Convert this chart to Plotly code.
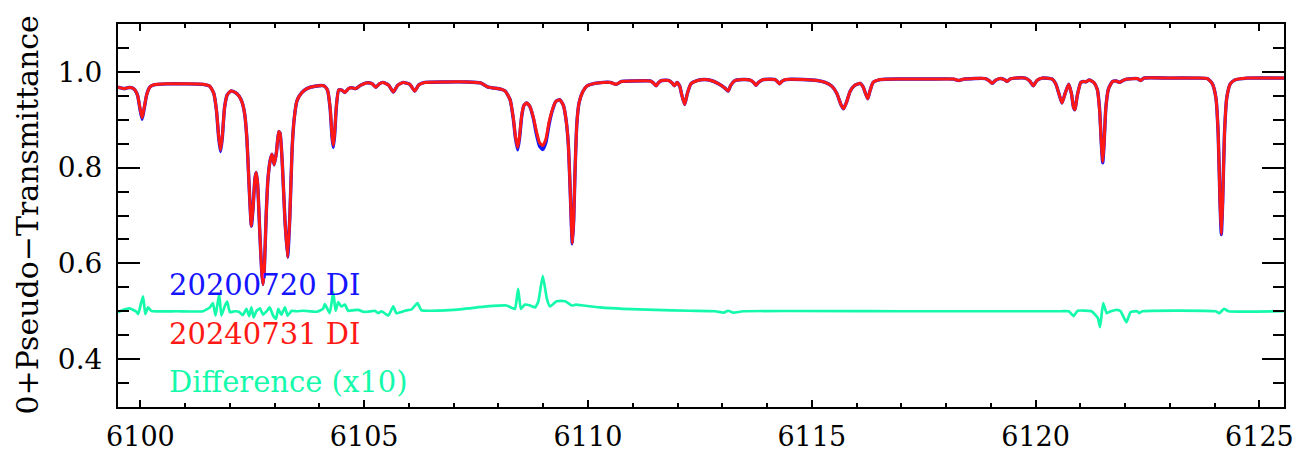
import plotly.graph_objects as go

# ---------------- data ----------------
wavelength = [
    6099.50, 6099.58, 6099.65, 6099.72, 6099.80, 6099.88, 6099.94, 6099.99, 6100.04, 6100.09,
    6100.14, 6100.21, 6100.30, 6100.60, 6101.00, 6101.40, 6101.55, 6101.64, 6101.70, 6101.75,
    6101.79, 6101.83, 6101.88, 6101.94, 6102.02, 6102.12, 6102.20, 6102.27, 6102.33, 6102.38,
    6102.43, 6102.48, 6102.52, 6102.56, 6102.59, 6102.62, 6102.67, 6102.71, 6102.74, 6102.77,
    6102.81, 6102.85, 6102.90, 6102.94, 6102.99, 6103.04, 6103.09, 6103.12, 6103.17, 6103.23,
    6103.29, 6103.34, 6103.39, 6103.44, 6103.50, 6103.60, 6103.72, 6103.90, 6104.10, 6104.18,
    6104.24, 6104.28, 6104.31, 6104.34, 6104.38, 6104.43, 6104.50, 6104.57, 6104.65, 6104.72,
    6104.81, 6104.92, 6105.05, 6105.18, 6105.26, 6105.34, 6105.42, 6105.55, 6105.65, 6105.75,
    6105.87, 6106.02, 6106.13, 6106.22, 6106.35, 6106.80, 6107.30, 6107.60, 6107.77, 6107.92,
    6108.05, 6108.15, 6108.26, 6108.33, 6108.38, 6108.43, 6108.47, 6108.52, 6108.57, 6108.63,
    6108.70, 6108.78, 6108.85, 6108.92, 6108.99, 6109.06, 6109.13, 6109.20, 6109.28, 6109.37,
    6109.45, 6109.51, 6109.56, 6109.60, 6109.63, 6109.65, 6109.68, 6109.71, 6109.75, 6109.80,
    6109.88, 6109.97, 6110.15, 6110.34, 6110.50, 6110.63, 6110.75, 6111.00, 6111.39, 6111.46,
    6111.52, 6111.58, 6111.65, 6111.80, 6111.88, 6111.93, 6111.99, 6112.05, 6112.10, 6112.16,
    6112.22, 6112.30, 6112.45, 6112.60, 6112.75, 6112.90, 6112.99, 6113.06, 6113.13, 6113.19,
    6113.27, 6113.45, 6113.62, 6113.70, 6113.75, 6113.81, 6113.92, 6114.18, 6114.24, 6114.28,
    6114.33, 6114.42, 6114.80, 6115.12, 6115.30, 6115.45, 6115.56, 6115.65, 6115.71, 6115.77,
    6115.86, 6115.96, 6116.08, 6116.15, 6116.20, 6116.25, 6116.30, 6116.37, 6116.53, 6117.00,
    6117.60, 6118.17, 6118.28, 6118.40, 6118.88, 6118.97, 6119.03, 6119.10, 6119.20, 6119.30,
    6119.36, 6119.43, 6119.55, 6119.77, 6119.87, 6119.95, 6120.03, 6120.15, 6120.37, 6120.45,
    6120.52, 6120.59, 6120.66, 6120.74, 6120.80, 6120.85, 6120.88, 6120.93, 6121.01, 6121.07,
    6121.12, 6121.20, 6121.30, 6121.38, 6121.43, 6121.47, 6121.50, 6121.53, 6121.57, 6121.63,
    6121.72, 6121.80, 6121.88, 6121.95, 6122.05, 6122.27, 6122.35, 6122.42, 6123.00, 6123.60,
    6123.84, 6123.95, 6124.03, 6124.08, 6124.12, 6124.15, 6124.18, 6124.22, 6124.27, 6124.35,
    6124.45, 6124.73, 6125.55,
]

trans_20240731 = [
    0.968, 0.966, 0.965, 0.967, 0.967, 0.962, 0.950, 0.925, 0.904, 0.928,
    0.952, 0.968, 0.973, 0.975, 0.975, 0.974, 0.970, 0.955, 0.920, 0.865,
    0.837, 0.865, 0.925, 0.952, 0.960, 0.957, 0.950, 0.937, 0.912, 0.860,
    0.760, 0.678, 0.720, 0.778, 0.790, 0.765, 0.660, 0.585, 0.556, 0.590,
    0.700, 0.776, 0.815, 0.828, 0.806, 0.832, 0.875, 0.872, 0.810, 0.690,
    0.613, 0.700, 0.840, 0.905, 0.940, 0.956, 0.965, 0.970, 0.971, 0.962,
    0.925, 0.870, 0.846, 0.872, 0.930, 0.962, 0.962, 0.957, 0.965, 0.967,
    0.965, 0.972, 0.977, 0.975, 0.968, 0.975, 0.978, 0.972, 0.958, 0.972,
    0.978, 0.974, 0.960, 0.973, 0.978, 0.979, 0.979, 0.977, 0.968, 0.966,
    0.964, 0.960, 0.942, 0.905, 0.865, 0.842, 0.865, 0.910, 0.930, 0.935,
    0.928, 0.905, 0.875, 0.852, 0.846, 0.860, 0.895, 0.920, 0.938, 0.942,
    0.930, 0.900, 0.850, 0.760, 0.680, 0.642, 0.690, 0.790, 0.890, 0.935,
    0.958, 0.970, 0.976, 0.978, 0.978, 0.974, 0.980, 0.981, 0.981, 0.977,
    0.971, 0.978, 0.982, 0.982, 0.977, 0.971, 0.978, 0.970, 0.950, 0.932,
    0.955, 0.975, 0.982, 0.984, 0.982, 0.976, 0.971, 0.966, 0.960, 0.972,
    0.981, 0.984, 0.983, 0.978, 0.972, 0.978, 0.984, 0.984, 0.979, 0.975,
    0.980, 0.984, 0.984, 0.982, 0.978, 0.970, 0.955, 0.932, 0.923, 0.935,
    0.960, 0.972, 0.976, 0.968, 0.955, 0.944, 0.960, 0.978, 0.984, 0.985,
    0.985, 0.985, 0.982, 0.985, 0.986, 0.981, 0.976, 0.982, 0.986, 0.984,
    0.980, 0.985, 0.987, 0.987, 0.981, 0.971, 0.982, 0.987, 0.985, 0.975,
    0.955, 0.935, 0.955, 0.974, 0.955, 0.925, 0.921, 0.950, 0.978, 0.980,
    0.979, 0.983, 0.978, 0.963, 0.920, 0.850, 0.812, 0.850, 0.925, 0.965,
    0.980, 0.981, 0.978, 0.982, 0.985, 0.986, 0.982, 0.987, 0.987, 0.987,
    0.986, 0.975, 0.945, 0.870, 0.730, 0.661, 0.730, 0.870, 0.945, 0.975,
    0.983, 0.987, 0.987,
]

trans_20200720 = [
    0.968, 0.966, 0.965, 0.967, 0.967, 0.962, 0.950, 0.923, 0.901, 0.926,
    0.952, 0.968, 0.973, 0.975, 0.975, 0.974, 0.970, 0.955, 0.919, 0.862,
    0.833, 0.862, 0.925, 0.952, 0.960, 0.957, 0.950, 0.937, 0.912, 0.860,
    0.760, 0.678, 0.720, 0.778, 0.790, 0.765, 0.660, 0.585, 0.556, 0.590,
    0.700, 0.776, 0.815, 0.828, 0.806, 0.832, 0.875, 0.872, 0.810, 0.690,
    0.613, 0.700, 0.840, 0.905, 0.940, 0.956, 0.965, 0.970, 0.971, 0.962,
    0.923, 0.866, 0.842, 0.868, 0.929, 0.962, 0.962, 0.957, 0.965, 0.967,
    0.965, 0.972, 0.977, 0.975, 0.968, 0.975, 0.978, 0.972, 0.958, 0.972,
    0.978, 0.974, 0.960, 0.973, 0.978, 0.979, 0.979, 0.977, 0.968, 0.966,
    0.964, 0.960, 0.942, 0.903, 0.862, 0.837, 0.861, 0.908, 0.930, 0.935,
    0.928, 0.903, 0.869, 0.845, 0.838, 0.853, 0.890, 0.918, 0.938, 0.942,
    0.930, 0.900, 0.850, 0.760, 0.679, 0.641, 0.689, 0.790, 0.890, 0.935,
    0.958, 0.970, 0.976, 0.978, 0.978, 0.974, 0.980, 0.981, 0.981, 0.977,
    0.971, 0.978, 0.982, 0.982, 0.977, 0.971, 0.978, 0.970, 0.950, 0.932,
    0.955, 0.975, 0.982, 0.984, 0.982, 0.976, 0.971, 0.966, 0.960, 0.972,
    0.981, 0.984, 0.983, 0.978, 0.972, 0.978, 0.984, 0.984, 0.979, 0.975,
    0.980, 0.984, 0.984, 0.982, 0.978, 0.970, 0.955, 0.932, 0.923, 0.935,
    0.960, 0.972, 0.976, 0.968, 0.955, 0.944, 0.960, 0.978, 0.984, 0.985,
    0.985, 0.985, 0.982, 0.985, 0.986, 0.981, 0.976, 0.982, 0.986, 0.984,
    0.980, 0.985, 0.987, 0.987, 0.981, 0.971, 0.982, 0.987, 0.985, 0.975,
    0.955, 0.935, 0.955, 0.974, 0.955, 0.925, 0.921, 0.950, 0.978, 0.980,
    0.979, 0.983, 0.978, 0.963, 0.922, 0.849, 0.810, 0.849, 0.925, 0.965,
    0.980, 0.981, 0.978, 0.982, 0.985, 0.986, 0.982, 0.987, 0.987, 0.987,
    0.986, 0.975, 0.945, 0.870, 0.730, 0.660, 0.730, 0.870, 0.945, 0.975,
    0.983, 0.987, 0.987,
]

diff_wavelength = [
    6099.50, 6099.62, 6099.76, 6099.90, 6099.95, 6100.01, 6100.06, 6100.11, 6100.17, 6100.23,
    6100.28, 6100.80, 6101.40, 6101.55, 6101.62, 6101.68, 6101.76, 6101.81, 6101.89, 6101.94,
    6102.00, 6102.11, 6102.20, 6102.29, 6102.37, 6102.43, 6102.48, 6102.53, 6102.59, 6102.67,
    6102.74, 6102.82, 6102.89, 6102.97, 6103.03, 6103.08, 6103.15, 6103.23, 6103.29, 6103.38,
    6103.49, 6103.64, 6103.94, 6104.08, 6104.12, 6104.23, 6104.31, 6104.36, 6104.42, 6104.49,
    6104.57, 6104.64, 6104.75, 6104.87, 6104.97, 6105.08, 6105.24, 6105.31, 6105.39, 6105.54,
    6105.65, 6105.72, 6105.91, 6106.06, 6106.19, 6106.28, 6106.99, 6107.74, 6108.18, 6108.30,
    6108.37, 6108.44, 6108.50, 6108.59, 6108.71, 6108.82, 6108.89, 6108.99, 6109.08, 6109.15,
    6109.30, 6109.49, 6109.64, 6109.73, 6109.90, 6110.27, 6110.79, 6111.50, 6112.28, 6112.84,
    6113.03, 6113.13, 6113.25, 6113.47, 6117.00, 6120.56, 6120.74, 6120.85, 6120.94, 6121.25,
    6121.39, 6121.44, 6121.51, 6121.59, 6121.68, 6121.82, 6121.90, 6122.03, 6122.12, 6122.27,
    6122.32, 6122.38, 6124.02, 6124.11, 6124.21, 6124.31, 6125.55,
]

difference_x10 = [
    0.498, 0.503, 0.506, 0.500, 0.494, 0.515, 0.531, 0.494, 0.508, 0.502,
    0.500, 0.500, 0.500, 0.508, 0.517, 0.491, 0.536, 0.491, 0.512, 0.520,
    0.498, 0.500, 0.499, 0.492, 0.505, 0.490, 0.508, 0.487, 0.500, 0.506,
    0.493, 0.500, 0.508, 0.490, 0.484, 0.505, 0.493, 0.508, 0.491, 0.501,
    0.500, 0.501, 0.499, 0.505, 0.515, 0.496, 0.540, 0.501, 0.519, 0.510,
    0.514, 0.501, 0.502, 0.503, 0.499, 0.499, 0.501, 0.496, 0.500, 0.491,
    0.510, 0.496, 0.501, 0.504, 0.517, 0.502, 0.503, 0.510, 0.512, 0.507,
    0.505, 0.547, 0.505, 0.514, 0.512, 0.508, 0.520, 0.574, 0.527, 0.510,
    0.521, 0.521, 0.512, 0.514, 0.512, 0.508, 0.505, 0.503, 0.501, 0.500,
    0.497, 0.501, 0.497, 0.500, 0.500, 0.500, 0.500, 0.490, 0.501, 0.500,
    0.486, 0.467, 0.517, 0.496, 0.500, 0.503, 0.500, 0.477, 0.498, 0.500,
    0.496, 0.500, 0.500, 0.496, 0.505, 0.500, 0.500,
]

legend_labels = ["20200720 DI", "20240731 DI", "Difference (x10)"]
legend_y = [0.554, 0.453, 0.353]

x_tick_values = [6100, 6105, 6110, 6115, 6120, 6125]
y_tick_values = [0.4, 0.6, 0.8, 1.0]

# ---------------- styling ----------------
BLUE = "rgb(20,20,255)"
RED = "rgb(255,25,20)"
GREEN = "rgb(20,250,170)"
colors = [BLUE, RED, GREEN]
FONT = "DejaVu Serif"

fig = go.Figure()
fig.add_trace(go.Scatter(x=wavelength, y=trans_20200720, mode="lines",
                         line=dict(color=BLUE, width=3.4, shape="spline", smoothing=0.5),
                         showlegend=False, hoverinfo="skip"))
fig.add_trace(go.Scatter(x=wavelength, y=trans_20240731, mode="lines",
                         line=dict(color=RED, width=3.0, shape="spline", smoothing=0.5),
                         showlegend=False, hoverinfo="skip"))
fig.add_trace(go.Scatter(x=diff_wavelength, y=difference_x10, mode="lines",
                         line=dict(color=GREEN, width=2.7, shape="spline", smoothing=0.4),
                         showlegend=False, hoverinfo="skip"))

for lab, yy, col in zip(legend_labels, legend_y, colors):
    fig.add_annotation(x=6100.6, y=yy, xref="x", yref="y", text=lab, showarrow=False,
                       xanchor="left", yanchor="middle",
                       font=dict(family=FONT, size=29, color=col))

fig.add_annotation(x=-0.078, y=0.5, xref="paper", yref="paper",
                   text="0+Pseudo\u2212Transmittance", textangle=-90, showarrow=False,
                   xanchor="center", yanchor="middle",
                   font=dict(family=FONT, size=30, color="black"))

fig.update_xaxes(range=[6099.5, 6125.55], tickvals=x_tick_values, automargin=False,
                 ticks="inside", ticklen=7, tickwidth=2, tickcolor="black",
                 showline=True, linewidth=2, linecolor="black", mirror="ticks",
                 showgrid=False, zeroline=False, ticklabelstandoff=5,
                 tickfont=dict(family=FONT, size=27, color="black"),
                 minor=dict(dtick=1, tick0=6100, ticks="inside", ticklen=4,
                            tickwidth=2, tickcolor="black", showgrid=False))
fig.update_yaxes(range=[0.3, 1.1], tickvals=y_tick_values, tickformat=".1f", automargin=False,
                 ticks="inside", ticklen=22, tickwidth=2, tickcolor="black",
                 showline=True, linewidth=2, linecolor="black", mirror="ticks",
                 showgrid=False, zeroline=False, ticklabelstandoff=8,
                 tickfont=dict(family=FONT, size=28, color="black"),
                 minor=dict(dtick=0.05, tick0=0, ticks="inside", ticklen=11,
                            tickwidth=2, tickcolor="black", showgrid=False))

# the page body adds an 8 px margin, so the figure is sized to fit the window
fig.update_layout(width=1293, height=446,
                  margin=dict(l=110, r=17, t=16, b=47, autoexpand=False),
                  plot_bgcolor="white", paper_bgcolor="white",
                  showlegend=False)

fig.write_html("out.html")
